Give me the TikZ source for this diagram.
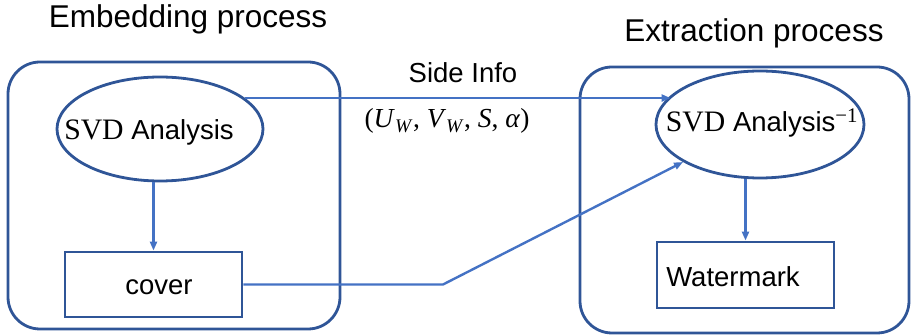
\documentclass[tikz,border=0pt]{standalone}
\usepackage{fontspec}
\setmainfont{Liberation Sans}
\newfontfamily\serifx{Liberation Serif}[Scale=1.08]
\newfontfamily\serifm{Liberation Serif}
\usetikzlibrary{shapes.geometric,arrows.meta}
\definecolor{boxblue}{HTML}{2F5597}
\definecolor{arrblue}{HTML}{4472C4}
\tikzset{
  frame/.style={draw=boxblue,line width=2.8pt,rounded corners=32pt},
  ell/.style={draw=boxblue,line width=2.8pt,ellipse,inner sep=0pt},
  rect/.style={draw=boxblue,line width=2.8pt,inner sep=0pt},
  conn/.style={draw=arrblue,line width=2.4pt,-{Triangle[length=9pt,width=7pt]}},
  body/.style={font=\fontsize{27.5}{33}\selectfont,inner sep=0pt,anchor=base},
  title/.style={font=\fontsize{31.5}{38}\selectfont,inner sep=0pt,anchor=base}
}
\begin{document}
\begin{tikzpicture}[x=1pt,y=-1pt]
\useasboundingbox (0,0) rectangle (911,336);
% frames
\draw[frame] (8,62) rectangle (340,329);
\draw[frame] (580,67) rectangle (909,333);
% titles
\node[title] (t1) at (188,28) {Embedding process};
\node[title] (t2) at (754,42) {Extraction process};
% left side
\node[ell,minimum width=206pt,minimum height=104pt] (le) at (160,129) {};
\node[body] (let) at (149,140) {{\serifx SVD} Analysis};
\node[rect,minimum width=177pt,minimum height=65pt] (cover) at (153.5,284.5) {};
\node[body] (covt) at (159,295) {cover};
% right side
\node[ell,minimum width=208pt,minimum height=107pt] (re) at (760,124.5) {};
\node[body] (ret) at (762,132) {{\serifx SVD} Analysis\textsuperscript{{\serifx −1}}};
\node[rect,minimum width=177pt,minimum height=66pt] (wm) at (745.5,275) {};
\node[body] (wmt) at (733,287) {Watermark};
% side info labels
\node[body] (si) at (463,83) {Side Info};
\node[body] (form) at (447,128) {\serifm(\textit{U}\textsubscript{\textit{W}}, \textit{V}\textsubscript{\textit{W}}, \textit{S}, \textit{α})};
% connectors
\draw[conn] (le.south -| cover.north) -- (cover.north);
\draw[conn] (re.south -| wm.north) -- (wm.north);
\draw[conn] (le.20) -- (le.20 -| re.162);
\coordinate (bend) at (443,283);
\draw[conn] (cover.east) -- (cover.east -| bend) -- (re.206);
\end{tikzpicture}
\end{document}
